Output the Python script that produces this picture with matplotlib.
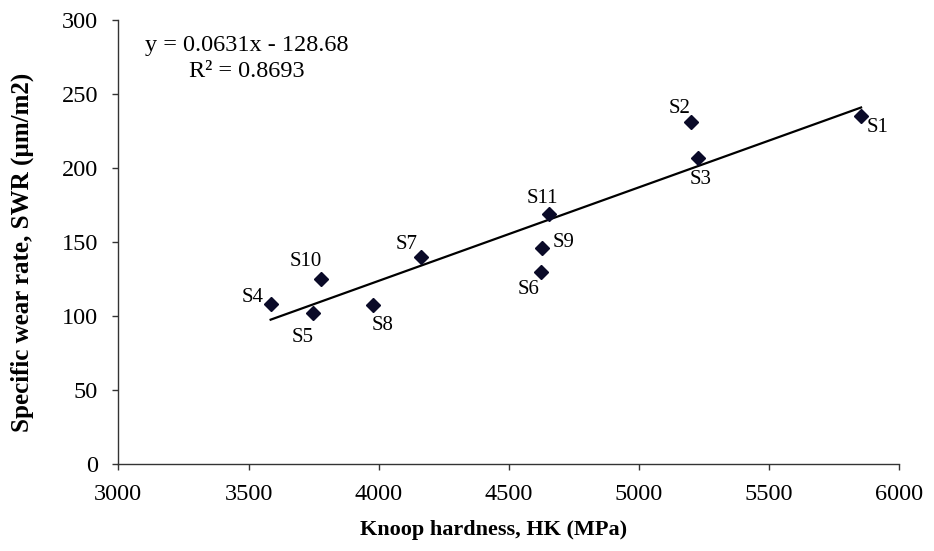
import numpy as np
import matplotlib
matplotlib.use("Agg")
from matplotlib import pyplot as plt

plt.rcParams['font.family'] = ['Liberation Serif', 'DejaVu Serif']

# Knoop hardness (MPa) and specific wear rate for each sample
samples = ['S1', 'S2', 'S3', 'S4', 'S5', 'S6', 'S7', 'S8', 'S9', 'S10', 'S11']
hk = [5853, 5199, 5228, 3585, 3747, 4623, 4163, 3977, 4627, 3778, 4656]
swr = [235.0, 231.2, 206.5, 108.2, 101.9, 129.6, 140.1, 107.5, 145.7, 124.8, 168.7]

# linear trend reported on the chart
slope = 0.0631
intercept = -128.68
r2 = 0.8693

# label offsets in pixels (dx, dy), dy up
label_off = {
    'S1': (16, -12), 'S2': (-11, 13), 'S3': (2, -21), 'S4': (-18, 6),
    'S5': (-10, -24), 'S6': (-12, -17), 'S7': (-14, 12), 'S8': (10, -21),
    'S9': (22, 6), 'S10': (-15, 18), 'S11': (-7, 16),
}

fig = plt.figure(figsize=(9.34, 5.51), dpi=100)
ax = fig.add_axes([0.1267, 0.1574, 0.8362, 0.8072])

xs = np.array([min(hk), max(hk)])
ax.plot(xs, slope * xs + intercept, color='black', lw=1.6, zorder=2)
ax.plot(hk, swr, linestyle='none', marker='D', ms=7.2,
        color='#0a0a28', zorder=3)

for name, x, y in zip(samples, hk, swr):
    dx, dy = label_off[name]
    ax.annotate(name, (x, y), xytext=(dx, dy), textcoords='offset pixels',
                ha='center', va='center', fontsize=15)

ax.text(0.165, 0.965, f"y = {slope}x - {abs(intercept)}\nR² = {r2}",
        transform=ax.transAxes, ha='center', va='top',
        multialignment='center', fontsize=17.5, linespacing=1.3)

ax.set_xlim(3000, 6000)
ax.set_ylim(0, 300)
ax.set_xticks(np.arange(3000, 6001, 500))
ax.set_yticks(np.arange(0, 301, 50))

for s in ['top', 'right']:
    ax.spines[s].set_visible(False)
for s in ['left', 'bottom']:
    ax.spines[s].set_color('#333333')
    ax.spines[s].set_linewidth(1.0)
ax.tick_params(direction='out', length=4.5, width=1.0, color='#333333',
               labelsize=17.5, pad=10)

ax.set_xlabel('Knoop hardness, HK (MPa)', fontsize=16, fontweight='bold')
ax.set_ylabel('Specific wear rate, SWR (µm/m2)', fontsize=18, fontweight='bold')
ax.xaxis.set_label_coords(0.481, -0.125)
ax.yaxis.set_label_coords(-0.108, 0.476)

plt.savefig('out.png', dpi=100)
